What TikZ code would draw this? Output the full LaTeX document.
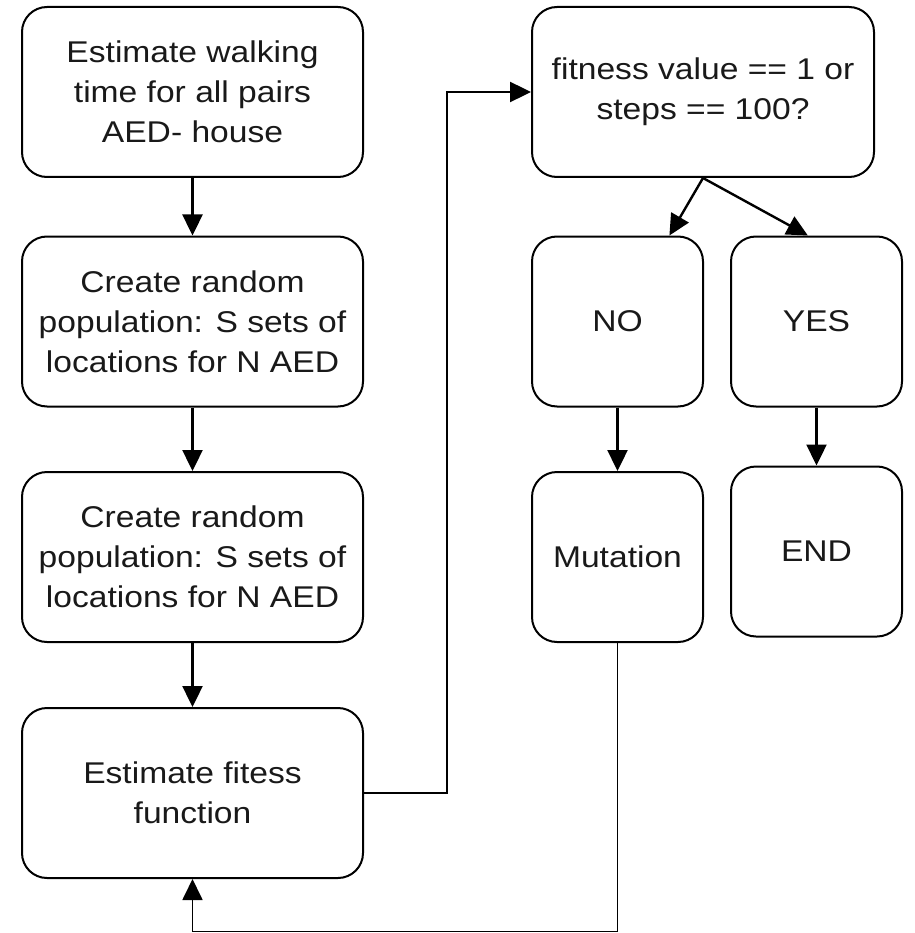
\documentclass[tikz,border=0pt]{standalone}
\usepackage{fontspec}
\setmainfont{Liberation Sans}[FakeStretch=1.12]
\usetikzlibrary{arrows.meta,calc}
\begin{document}
\begin{tikzpicture}[x=1pt,y=-1pt,
  box/.style={draw=black,line width=2pt,rounded corners=25pt,inner sep=0pt,align=center,
    font=\fontsize{30pt}{40pt}\selectfont,text=black!90},
  wide/.style={box,minimum width=341pt,minimum height=170pt},
  narrow/.style={box,minimum width=171pt,minimum height=170pt},
  conn/.style={line width=2.4pt,-{Triangle[length=21pt,width=20pt]}},
  connthin/.style={line width=1.8pt,-{Triangle[length=21pt,width=20pt]}}]
\useasboundingbox (0,0) rectangle (914,933);
\node[wide] (b1) at (192.5,92) {Estimate walking\\time for all pairs\\AED- house};
\node[wide] (b2) at (192.5,321.5) {Create random\\population: S sets of\\locations for N AED};
\node[wide] (b3) at (192.5,557) {Create random\\population: S sets of\\locations for N AED};
\node[wide] (b4) at (192.5,793) {Estimate fitess\\function};
\node[wide,minimum width=342pt] (top) at (703,92) {fitness value == 1 or\\steps == 100?};
\node[narrow] (no) at (617.5,321.5) {NO};
\node[narrow] (yes) at (816.5,321.5) {YES};
\node[narrow] (mut) at (617.5,557) {Mutation};
\node[narrow] (end) at (816.5,551.5) {END};
\coordinate (c1) at (447,0);
\coordinate (c2) at (0,931.5);
\draw[conn] (b1.south) -- (b2.north);
\draw[conn] (b2.south) -- (b3.north);
\draw[conn] (b3.south) -- (b4.north);
\draw[conn] (b4.east) -- (b4.east -| c1) -- (top.west -| c1) -- (top.west);
\draw[conn] (top.south) -- ($(no.north west)!0.8!(no.north east)$);
\draw[conn] (top.south) -- ($(yes.north west)!0.45!(yes.north east)$);
\draw[conn] (no.south) -- (mut.north);
\draw[conn] (yes.south) -- (end.north);
\draw[connthin] (mut.south) -- (mut.south |- c2) -- (b4.south |- c2) -- (b4.south);
\end{tikzpicture}
\end{document}
